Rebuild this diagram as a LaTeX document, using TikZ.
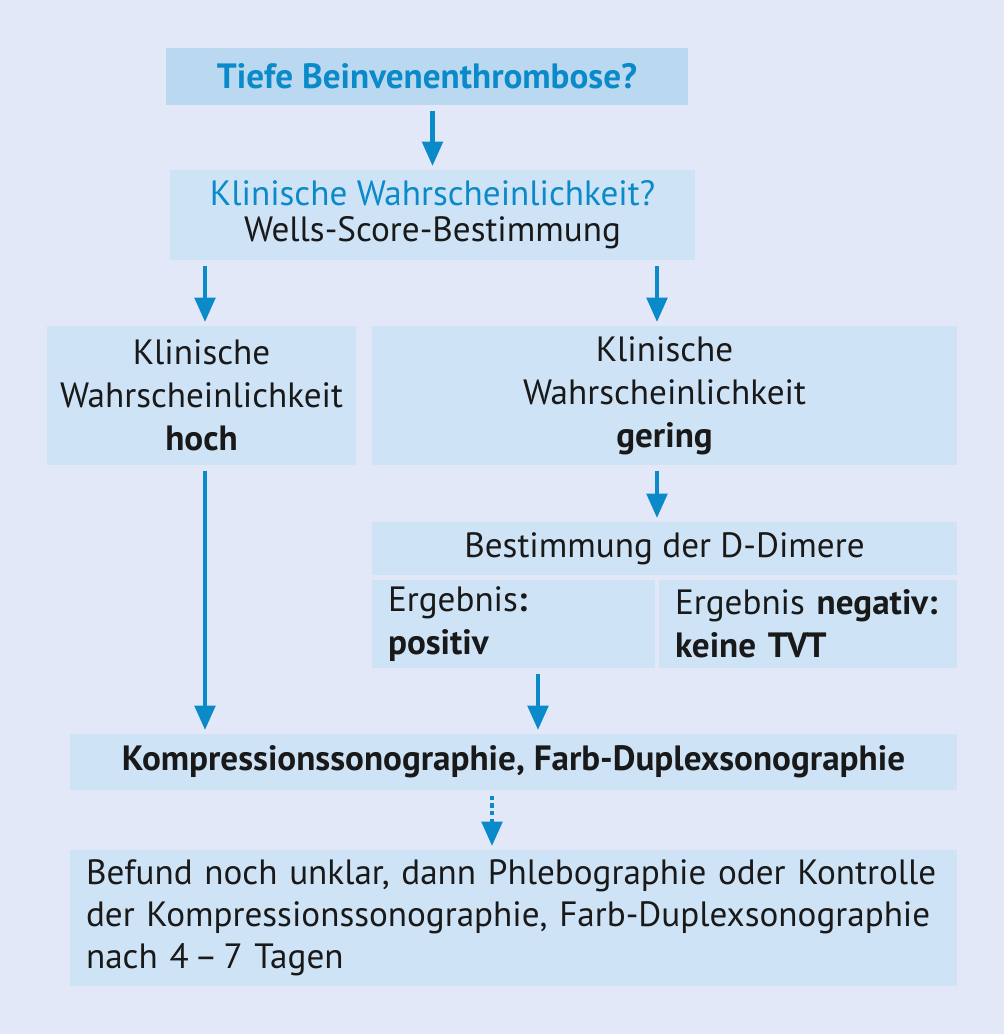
\documentclass[tikz,border=0pt]{standalone}
\usepackage{fontspec}
\setmainfont{PT Sans}
\usetikzlibrary{arrows.meta}
\definecolor{bgblue}{HTML}{E3E8F9}
\definecolor{boxblue}{HTML}{CFE3F6}
\definecolor{topblue}{HTML}{BAD9F1}
\definecolor{lineblue}{HTML}{0A8AC9}
\tikzset{
  box/.style={fill=boxblue, inner sep=0pt, align=center, text=black!90,
    font=\fontsize{20}{24.5}\selectfont},
  leftbox/.style={box, align=left, inner xsep=0.32cm},
  flow/.style={draw=lineblue, line width=2.8pt,
    -{Triangle[width=11.5pt,length=14pt]}, shorten <=3pt, shorten >=2pt},
  dotflow/.style={flow, dash pattern=on 2.4pt off 2pt},
}

\begin{document}
\begin{tikzpicture}[x=0.02cm,y=-0.02cm]
    \fill[bgblue] (0,0) rectangle (1004,1034);
    \useasboundingbox (0,0) rectangle (1004,1034);

    \node[box,fill=topblue,minimum width=10.44cm,minimum height=1.14cm,text=lineblue] (top) at (427,76.5) {\textbf{Tiefe Beinvenenthrombose?}};
    \node[box,minimum width=10.5cm,minimum height=1.8cm,font=\fontsize{20}{20.5}\selectfont] (wells) at (432.5,215) {\textcolor{lineblue}{Klinische Wahrscheinlichkeit?}\\Wells-Score-Bestimmung};
    \node[box,minimum width=6.18cm,minimum height=2.78cm] (hoch) at (201.5,395.5) {Klinische\\Wahrscheinlichkeit\\\textbf{hoch}};
    \node[box,minimum width=11.7cm,minimum height=2.78cm] (gering) at (664.5,395.5) {Klinische\\Wahrscheinlichkeit\\\textbf{gering}};
    \node[box,minimum width=11.7cm,minimum height=1.06cm] (dimer) at (664.5,548.5) {Bestimmung der D-Dimere};
    \node[leftbox,text width=5.02cm,minimum height=1.76cm] (pos) at (513.5,624) {Ergebnis\textbf{:}\\\textbf{positiv}};
    \node[leftbox,text width=5.32cm,minimum height=1.76cm] (neg) at (808,624) {Ergebnis \textbf{negativ:}\\\textbf{keine TVT}};
    \node[box,minimum width=17.74cm,minimum height=1.12cm] (kompr) at (513.5,762) {\textbf{Kompressionssonographie, Farb-Duplexsonographie}};
    \node[leftbox,text width=17.1cm,minimum height=2.72cm,font=\fontsize{20}{24}\selectfont] (befund) at (513.5,918) {Befund noch unklar, dann Phlebographie oder Kontrolle\\der Kompressionssonographie, Farb-Duplexsonographie\\nach 4\,--\,7 Tagen};

    % arrows
    \draw[flow] (wells.north |- top.south) -- (wells.north);
    \draw[flow] ([xshift=0.07cm]hoch.north |- wells.south) -- ([xshift=0.07cm]hoch.north);
    \draw[flow] ([xshift=-0.15cm]gering.north |- wells.south) -- ([xshift=-0.15cm]gering.north);
    \draw[flow] ([xshift=-0.15cm]gering.south) -- ([xshift=-0.15cm]gering.south |- dimer.north);
    \draw[flow] ([xshift=0.07cm]hoch.south) -- ([xshift=0.07cm]hoch.south |- kompr.north);
    \draw[flow] ([xshift=0.49cm]pos.south) -- ([xshift=0.49cm]pos.south |- kompr.north);
    \draw[dotflow] ([xshift=-0.43cm]kompr.south) -- ([xshift=-0.43cm]kompr.south |- befund.north);
\end{tikzpicture}
\end{document}
